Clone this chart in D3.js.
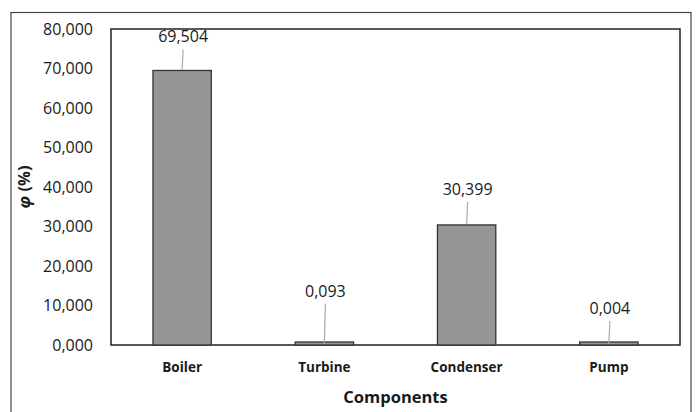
<!DOCTYPE html>
<html>
<head>
<meta charset="utf-8">
<script src="https://cdn.jsdelivr.net/npm/d3@7"></script>
<style>
  body { margin: 0; background: #fff; }
  text { font-family: "Open Sans", "Noto Sans", sans-serif; fill: #1a1a1a; }
</style>
</head>
<body>
<script>
// components and their share of exergy destruction
var components = ["Boiler", "Turbine", "Condenser", "Pump"];
var phiValues = [69504, 93, 30399, 4];
var valueLabels = ["69,504", "0,093", "30,399", "0,004"];
var yTicks = [0, 10000, 20000, 30000, 40000, 50000, 60000, 70000, 80000];
// where the data label sits above each bar (px above the bar top)
var labelGap = [30, 50, 32, 33];

var width = 696, height = 412;
var margin = { left: 111, right: 16, top: 29, bottom: 67 };

var svg = d3.select("body").append("svg")
    .attr("width", width)
    .attr("height", height);

// outer frame
svg.append("rect")
    .attr("x", 11).attr("y", 12.5)
    .attr("width", 680).attr("height", 420)
    .attr("fill", "none")
    .attr("stroke", "#444")
    .attr("stroke-width", 1.2);

var x = d3.scaleBand()
    .domain(components)
    .range([margin.left, width - margin.right])
    .paddingInner(0.59)
    .paddingOuter(0.295);

var y = d3.scaleLinear()
    .domain([0, 80000])
    .range([height - margin.bottom, margin.top]);

// plot area border
svg.append("rect")
    .attr("x", margin.left).attr("y", margin.top)
    .attr("width", width - margin.right - margin.left)
    .attr("height", y(0) - margin.top)
    .attr("fill", "none")
    .attr("stroke", "#222")
    .attr("stroke-width", 1.5);

// y axis tick labels
var yAxis = d3.axisLeft(y)
    .tickValues(yTicks)
    .tickSize(0)
    .tickPadding(18)
    .tickFormat(function (d) { return (d / 1000) + ",000"; });
svg.append("g")
    .attr("transform", "translate(" + margin.left + ",0)")
    .call(yAxis)
    .call(function (g) { g.select(".domain").remove(); })
    .selectAll("text")
    .attr("font-size", 16)
    .attr("fill", "#1a1a1a")
    .style("font-family", "'Open Sans', sans-serif");

// bars
svg.selectAll(".bar")
    .data(phiValues)
    .enter()
    .append("rect")
    .attr("class", "bar")
    .attr("x", function (d, i) { return x(components[i]); })
    .attr("y", function (d) { return Math.min(y(d), y(0) - 3); })
    .attr("width", x.bandwidth())
    .attr("height", function (d) { return Math.max(y(0) - y(d), 3); })
    .attr("fill", "#969696")
    .attr("stroke", "#333")
    .attr("stroke-width", 1.3);

// leader lines
svg.selectAll(".leader")
    .data(phiValues)
    .enter()
    .append("line")
    .attr("class", "leader")
    .attr("x1", function (d, i) { return x(components[i]) + x.bandwidth() / 2; })
    .attr("x2", function (d, i) { return x(components[i]) + x.bandwidth() / 2 + 1; })
    .attr("y1", function (d) { return y(d) - 1; })
    .attr("y2", function (d, i) { return y(d) - labelGap[i] + 9; })
    .attr("stroke", "#aaa")
    .attr("stroke-width", 1.2);

// data labels
svg.selectAll(".vlabel")
    .data(phiValues)
    .enter()
    .append("text")
    .attr("class", "vlabel")
    .attr("x", function (d, i) { return x(components[i]) + x.bandwidth() / 2 + 1; })
    .attr("y", function (d, i) { return y(d) - labelGap[i] + 2; })
    .attr("text-anchor", "middle")
    .attr("font-size", 16)
    .text(function (d, i) { return valueLabels[i]; });

// x category labels
svg.selectAll(".xlabel")
    .data(components)
    .enter()
    .append("text")
    .attr("class", "xlabel")
    .attr("x", function (d) { return x(d) + x.bandwidth() / 2; })
    .attr("y", 372)
    .attr("text-anchor", "middle")
    .attr("font-size", 13.5)
    .attr("font-weight", "bold")
    .text(function (d) { return d; });

// axis titles
svg.append("text")
    .attr("x", (margin.left + width - margin.right) / 2)
    .attr("y", 403)
    .attr("text-anchor", "middle")
    .attr("font-size", 16.5)
    .attr("font-weight", "bold")
    .text("Components");

var yt = svg.append("text")
    .attr("transform", "translate(30,187) rotate(-90)")
    .attr("text-anchor", "middle")
    .attr("font-size", 16.5)
    .attr("font-weight", "bold");
yt.append("tspan").attr("font-style", "italic").text("φ");
yt.append("tspan").text(" (%)");
</script>
</body>
</html>
